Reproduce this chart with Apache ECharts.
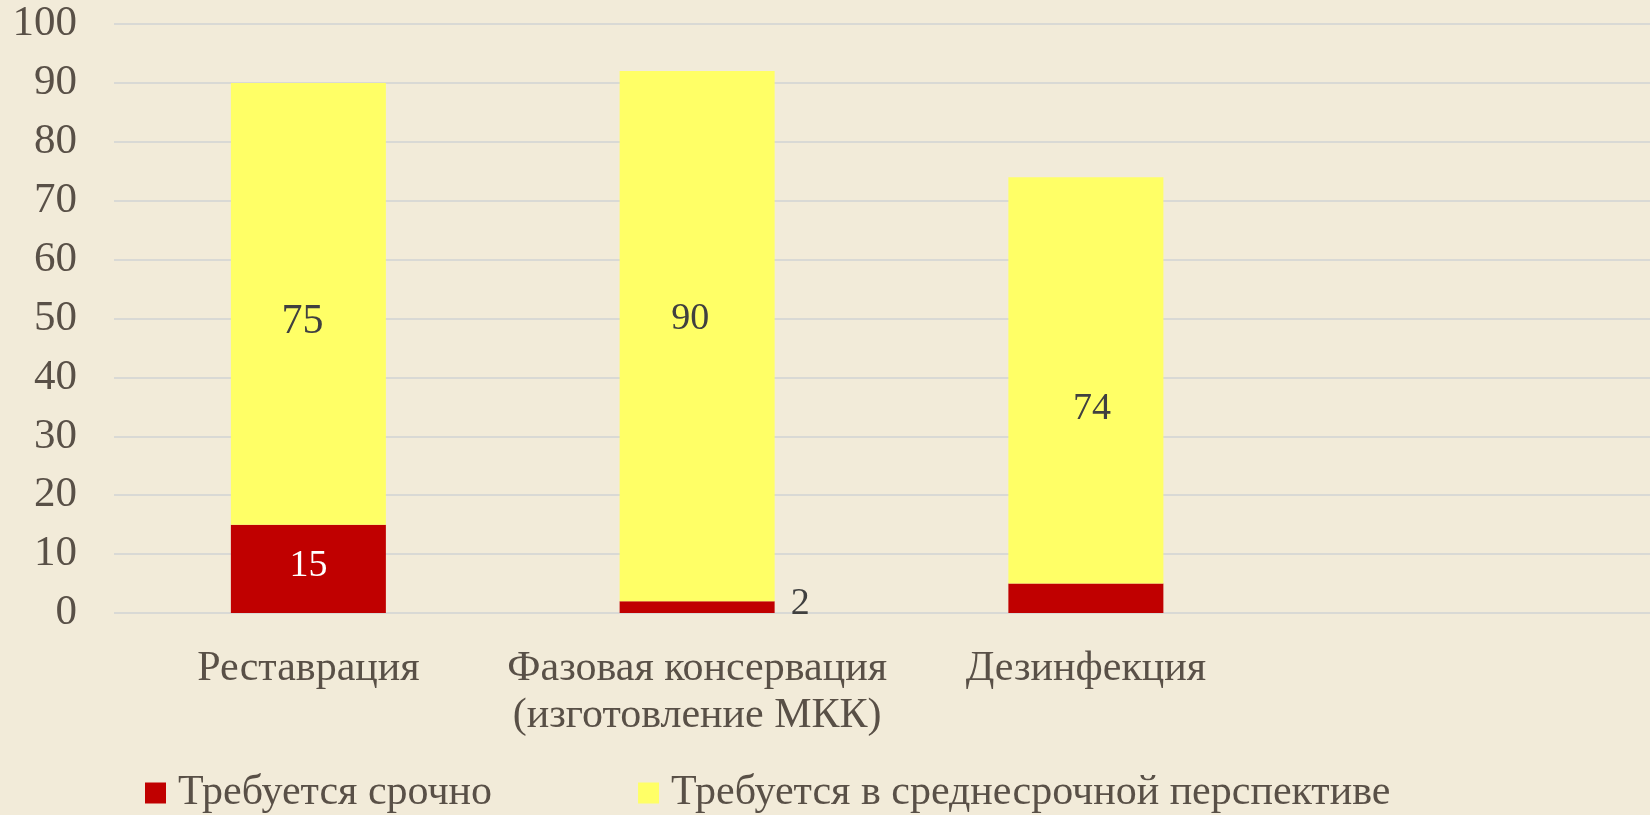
<!DOCTYPE html>
<html>
<head>
<meta charset="utf-8">
<script src="https://cdn.jsdelivr.net/npm/echarts@6/dist/echarts.min.js"></script>
<style>
  html, body { margin: 0; padding: 0; background: #F2EBD9; }
  #chart { width: 1650px; height: 815px; }
</style>
</head>
<body>
<div id="chart"></div>
<script>
// categories (the 4th slot is empty in the original)
const categories = ["Реставрация", "Фазовая консервация\n(изготовление МКК)", "Дезинфекция", ""];
const urgent = [15, 2, 5, null];
const midTerm = [75, 90, 69, null];
// label texts as printed on the bars
const urgentLabels = ["15", "2", "", ""];
const midTermLabels = ["75", "90", "74", ""];
const yTicks = [0, 10, 20, 30, 40, 50, 60, 70, 80, 90, 100];

const textColor = "#595047";
const font = "Liberation Serif";

// per-bar label placement (style only)
const midLabelStyle = [
  { fontSize: 42, offset: [-6, 18] },
  { fontSize: 38, offset: [-7, -17] },
  { fontSize: 38, offset: [6, 29] }
];
const urgentLabelStyle = [
  { position: "inside", color: "#fff", fontSize: 38, offset: [0, -3] },
  { position: "right", color: "#404040", fontSize: 38, offset: [0, -3], distance: 16 },
  { show: false }
];

const chart = echarts.init(document.getElementById("chart"));

const option = {
  backgroundColor: "#F2EBD9",
  animation: false,
  grid: {
    left: 114,
    right: -19,
    top: 24,
    bottom: 202,
    outerBoundsMode: "none"
  },
  legend: {
    top: 772,
    left: 145,
    padding: 0,
    itemWidth: 21,
    itemHeight: 21,
    itemGap: 146,
    icon: "rect",
    textStyle: { color: textColor, fontFamily: font, fontSize: 42, padding: [0, 0, 0, 7] },
    data: ["Требуется срочно", "Требуется в среднесрочной перспективе"]
  },
  xAxis: {
    type: "category",
    data: categories,
    axisLine: { show: false },
    axisTick: { show: false },
    axisLabel: {
      color: textColor,
      fontFamily: font,
      fontSize: 42,
      lineHeight: 47,
      margin: 32,
      interval: 0
    }
  },
  yAxis: {
    type: "value",
    min: yTicks[0],
    max: yTicks[yTicks.length - 1],
    interval: 10,
    axisLine: { show: false },
    axisTick: { show: false },
    splitLine: { lineStyle: { color: "#D9D9D5", width: 2 } },
    axisLabel: {
      color: textColor,
      fontFamily: font,
      fontSize: 43,
      margin: 37
    }
  },
  series: [
    {
      name: "Требуется срочно",
      type: "bar",
      stack: "total",
      barWidth: 155,
      itemStyle: { color: "#C00000" },
      data: urgent.map((v, i) => ({
        value: v,
        label: Object.assign(
          {
            show: true,
            fontFamily: font,
            formatter: () => urgentLabels[i]
          },
          urgentLabelStyle[i] || { show: false }
        )
      }))
    },
    {
      name: "Требуется в среднесрочной перспективе",
      type: "bar",
      stack: "total",
      barWidth: 155,
      itemStyle: { color: "#FFFF66" },
      data: midTerm.map((v, i) => ({
        value: v,
        label: Object.assign(
          {
            show: true,
            position: "inside",
            color: "#404040",
            fontFamily: font,
            formatter: () => midTermLabels[i]
          },
          midLabelStyle[i] || { show: false }
        )
      }))
    }
  ]
};

chart.setOption(option);
window.addEventListener("resize", () => chart.resize());
</script>
</body>
</html>
